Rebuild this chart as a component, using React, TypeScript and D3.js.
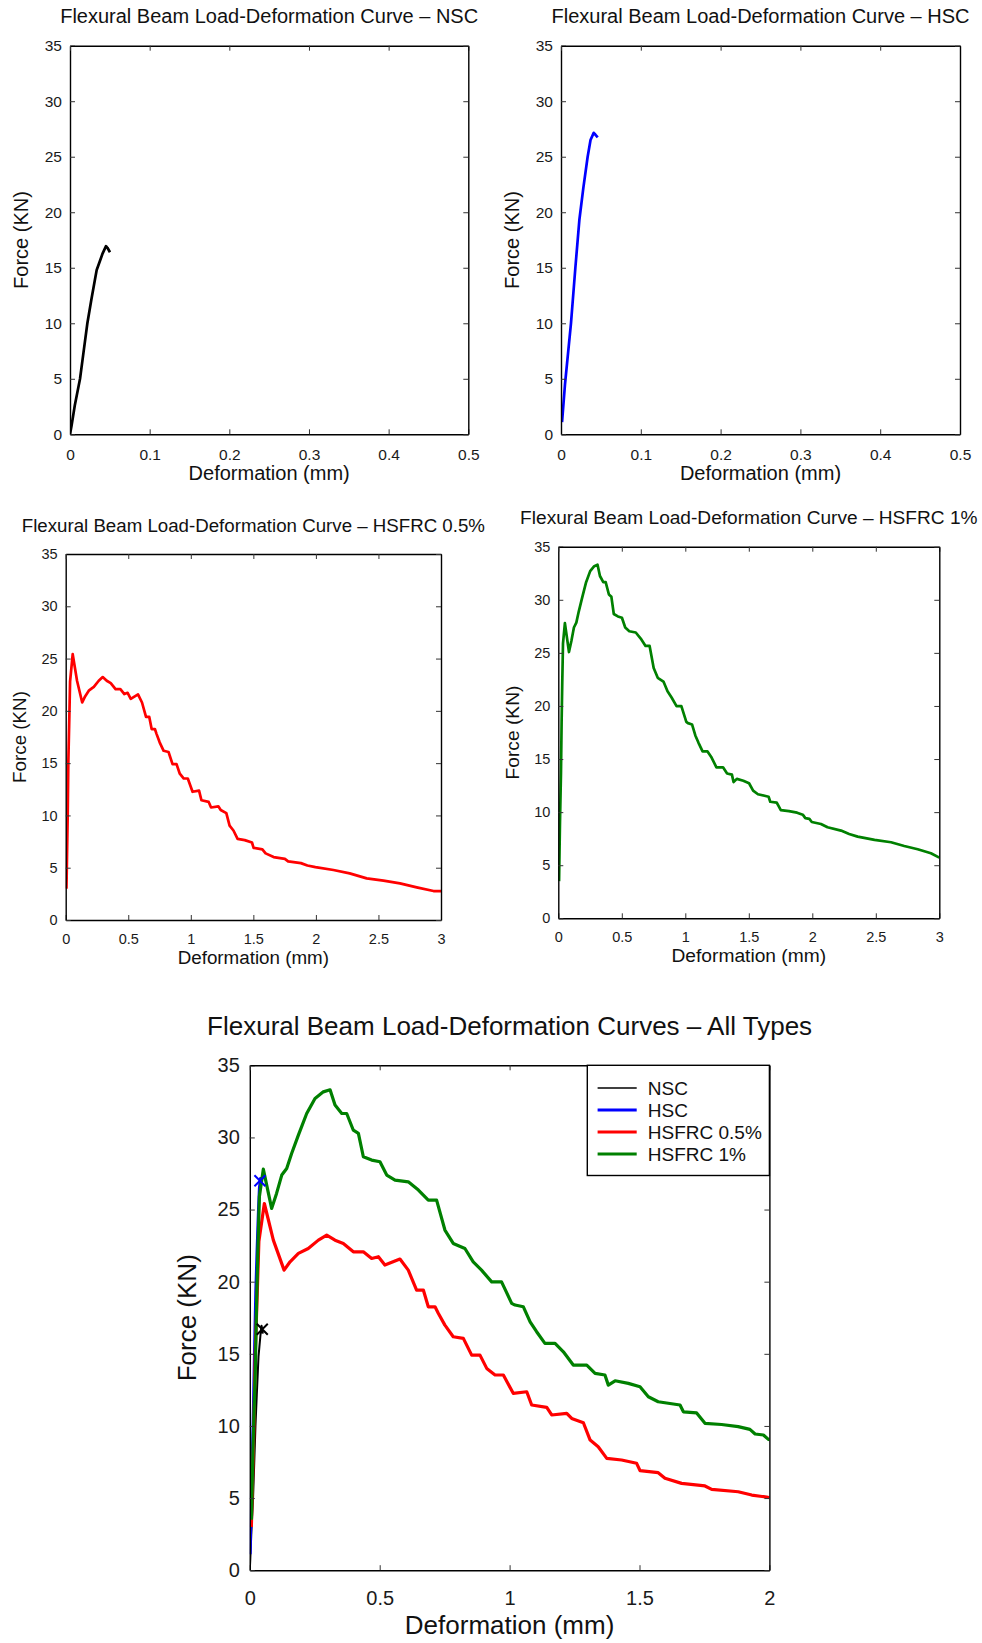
import React, { useEffect, useRef } from "react";
import * as d3 from "d3";

const W = 982;
const H = 1643;
const FONT = "'Liberation Sans', Arial, Helvetica, sans-serif";

// NSC
const nscDef = [0, 0.002, 0.006, 0.0126, 0.017, 0.0218, 0.027, 0.031, 0.0335, 0.037, 0.041, 0.0452, 0.047, 0.0502];
const nscForce = [0, 0.8, 2.6, 5.0, 7.4, 10.0, 12.2, 13.8, 14.8, 15.5, 16.3, 16.95, 16.8, 16.4];

// HSC
const hscDef = [0.0013, 0.005, 0.0125, 0.018, 0.023, 0.028, 0.0334, 0.037, 0.041, 0.043, 0.046];
const hscForce = [1.1, 4.5, 10.0, 15.0, 19.3, 22.2, 25.0, 26.5, 27.15, 27.0, 26.75];

// HSFRC 0.5%
const fr05Def = [0.006, 0.016, 0.021, 0.029, 0.035, 0.056, 0.0906, 0.132, 0.155, 0.187, 0.225, 0.264, 0.296, 0.328, 0.36, 0.3985, 0.437, 0.469, 0.495, 0.52, 0.578, 0.61, 0.642, 0.668, 0.687, 0.713, 0.726, 0.751, 0.783, 0.822, 0.854, 0.886, 0.912, 0.944, 0.976, 1.014, 1.066, 1.085, 1.143, 1.162, 1.22, 1.239, 1.284, 1.31, 1.341, 1.374, 1.431, 1.489, 1.502, 1.572, 1.598, 1.662, 1.752, 1.778, 1.88, 1.932, 1.996, 2.14, 2.27, 2.406, 2.54, 2.672, 2.806, 2.94, 3.0];
const fr05Force = [3.0, 10.0, 15.1, 19.4, 22.8, 25.42, 22.88, 20.8, 21.38, 21.96, 22.3, 22.88, 23.23, 22.88, 22.65, 22.07, 22.07, 21.61, 21.73, 21.15, 21.57, 20.8, 19.42, 19.42, 18.26, 18.26, 17.8, 16.99, 16.18, 16.07, 14.91, 14.91, 13.99, 13.53, 13.53, 12.26, 12.37, 11.45, 11.29, 10.76, 10.87, 10.52, 10.22, 9.02, 8.56, 7.75, 7.64, 7.41, 6.9, 6.76, 6.37, 6.02, 5.84, 5.6, 5.44, 5.21, 5.05, 4.78, 4.46, 3.98, 3.76, 3.5, 3.12, 2.77, 2.77];

// HSFRC 1%
const fr1Def = [0.006, 0.013, 0.021, 0.026, 0.031, 0.037, 0.052, 0.084, 0.103, 0.123, 0.142, 0.161, 0.187, 0.219, 0.251, 0.283, 0.309, 0.328, 0.354, 0.373, 0.3985, 0.418, 0.437, 0.469, 0.501, 0.527, 0.559, 0.61, 0.649, 0.687, 0.719, 0.751, 0.783, 0.828, 0.86, 0.892, 0.931, 0.969, 1.008, 1.021, 1.053, 1.079, 1.104, 1.136, 1.175, 1.207, 1.245, 1.297, 1.329, 1.367, 1.38, 1.406, 1.457, 1.502, 1.534, 1.572, 1.656, 1.669, 1.72, 1.752, 1.816, 1.88, 1.925, 1.945, 1.977, 1.996, 2.068, 2.12, 2.226, 2.29, 2.357, 2.49, 2.62, 2.724, 2.83, 2.934, 3.0];
const fr1Force = [3.5, 8.9, 13.65, 18.4, 22.1, 25.9, 27.8, 25.08, 26.12, 27.39, 27.85, 28.89, 30.16, 31.66, 32.7, 33.16, 33.3, 32.24, 31.66, 31.66, 30.5, 30.28, 28.66, 28.43, 28.31, 27.39, 27.04, 26.92, 26.35, 25.65, 25.65, 23.58, 22.65, 22.3, 21.38, 20.8, 19.99, 19.99, 18.5, 18.38, 18.26, 17.22, 16.53, 15.72, 15.72, 15.14, 14.22, 14.22, 13.64, 13.53, 12.83, 13.13, 12.95, 12.72, 12.02, 11.68, 11.45, 10.98, 10.9, 10.18, 10.1, 9.95, 9.76, 9.44, 9.37, 9.07, 8.88, 8.57, 8.26, 7.94, 7.69, 7.38, 7.16, 6.81, 6.5, 6.12, 5.71];

// peak markers on the combined plot (NSC, HSC)
const markerDef = [0.048, 0.039];
const markerForce = [16.7, 27.0];

const smallDefTicks = [0, 0.1, 0.2, 0.3, 0.4, 0.5];
const fibreDefTicks = [0, 0.5, 1, 1.5, 2, 2.5, 3];
const allDefTicks = [0, 0.5, 1, 1.5, 2];
const forceTicks = [0, 5, 10, 15, 20, 25, 30, 35];

const seriesNames = ["NSC", "HSC", "HSFRC 0.5%", "HSFRC 1%"];
const seriesColors = ["#000000", "#0000ff", "#ff0000", "#008000"];

const toPoints = (xs, ys) => xs.map((x, i) => [x, ys[i]]);

function drawPanel(svg, id, cfg) {
  const [l, t, r, b] = cfg.box;
  const x = d3.scaleLinear().domain([0, cfg.xMax]).range([l, r]);
  const y = d3.scaleLinear().domain([0, 35]).range([b, t]);
  const g = svg.append("g");

  g.append("clipPath").attr("id", id)
    .append("rect").attr("x", l).attr("y", t).attr("width", r - l).attr("height", b - t);

  const line = d3.line().x(d => x(d[0])).y(d => y(d[1]));
  cfg.series.forEach(s => {
    g.append("path")
      .datum(s.points)
      .attr("d", line)
      .attr("clip-path", `url(#${id})`)
      .style("fill", "none")
      .style("stroke", s.color)
      .style("stroke-width", s.width)
      .style("stroke-linejoin", "round");
  });

  (cfg.markers || []).forEach(m => {
    const cx = x(m.x), cy = y(m.y), s = 5.5;
    g.append("path")
      .attr("d", `M${cx - s},${cy - s}L${cx + s},${cy + s}M${cx - s},${cy + s}L${cx + s},${cy - s}`)
      .style("stroke", m.color)
      .style("stroke-width", 2)
      .style("fill", "none");
  });

  const styleAxis = sel => {
    sel.attr("font-family", FONT).attr("font-size", cfg.tickSize);
    sel.select(".domain").attr("stroke", "#000").attr("stroke-width", 1.4);
    sel.selectAll(".tick line").attr("stroke", "#333").attr("stroke-width", 1);
    sel.selectAll(".tick text").attr("fill", "#1a1a1a");
  };

  const fmt = d => String(d);
  g.append("g").attr("transform", `translate(0,${b})`)
    .call(d3.axisBottom(x).tickValues(cfg.xTicks).tickFormat(fmt).tickSize(-5).tickSizeOuter(0))
    .call(styleAxis)
    .call(a => a.selectAll(".tick text").attr("y", cfg.xTickBase).attr("dy", 0));
  g.append("g").attr("transform", `translate(${l},0)`)
    .call(d3.axisLeft(y).tickValues(forceTicks).tickFormat(fmt).tickSize(-5).tickSizeOuter(0).tickPadding(cfg.yTickPad))
    .call(styleAxis);
  g.append("g").attr("transform", `translate(0,${t})`)
    .call(d3.axisTop(x).tickValues(cfg.xTicks).tickFormat(() => "").tickSize(-5).tickSizeOuter(0))
    .call(styleAxis);
  g.append("g").attr("transform", `translate(${r},0)`)
    .call(d3.axisRight(y).tickValues(forceTicks).tickFormat(() => "").tickSize(-5).tickSizeOuter(0))
    .call(styleAxis);

  g.append("text")
    .attr("x", (l + r) / 2).attr("y", cfg.titleY)
    .attr("text-anchor", "middle")
    .attr("font-family", FONT).attr("font-size", cfg.titleSize)
    .attr("fill", "#111")
    .text(cfg.title);

  g.append("text")
    .attr("x", (l + r) / 2).attr("y", b + cfg.xLabelBase)
    .attr("text-anchor", "middle")
    .attr("font-family", FONT).attr("font-size", cfg.labelSize)
    .attr("fill", "#111")
    .text("Deformation (mm)");

  g.append("text")
    .attr("transform", `translate(${l - cfg.yLabelOff},${(t + b) / 2}) rotate(-90)`)
    .attr("text-anchor", "middle")
    .attr("font-family", FONT).attr("font-size", cfg.labelSize)
    .attr("fill", "#111")
    .text("Force (KN)");

  return { g, x, y };
}

const App = () => {
  const ref = useRef(null);

  useEffect(() => {
    const svg = d3.select(ref.current);
    svg.selectAll("*").remove();

    const nsc = toPoints(nscDef, nscForce);
    const hsc = toPoints(hscDef, hscForce);
    const fr05 = toPoints(fr05Def, fr05Force);
    const fr1 = toPoints(fr1Def, fr1Force);

    const small = { tickSize: 15.5, labelSize: 20, titleSize: 20, yTickPad: 8, xTickBase: 25.5, xLabelBase: 46 };
    const mid = { tickSize: 14.5, yTickPad: 8, xTickBase: 23.5, xLabelBase: 44 };

    drawPanel(svg, "clip-nsc", {
      ...small, box: [70, 45.7, 468.3, 434.3], xMax: 0.5, xTicks: smallDefTicks,
      title: "Flexural Beam Load-Deformation Curve \u2013 NSC", titleY: 22.5, yLabelOff: 42,
      series: [{ points: nsc, color: seriesColors[0], width: 2.7 }]
    });
    drawPanel(svg, "clip-hsc", {
      ...small, box: [561, 45.7, 960, 434.3], xMax: 0.5, xTicks: smallDefTicks,
      title: "Flexural Beam Load-Deformation Curve \u2013 HSC", titleY: 22.5, yLabelOff: 42,
      series: [{ points: hsc, color: seriesColors[1], width: 2.7 }]
    });
    drawPanel(svg, "clip-fr05", {
      ...mid, labelSize: 18.8, titleSize: 18.7, box: [65.7, 554, 441, 920], xMax: 3, xTicks: fibreDefTicks,
      title: "Flexural Beam Load-Deformation Curve \u2013 HSFRC 0.5%", titleY: 531.5, yLabelOff: 39.5,
      series: [{ points: fr05, color: seriesColors[2], width: 2.7 }]
    });
    drawPanel(svg, "clip-fr1", {
      ...mid, labelSize: 19.2, titleSize: 19.1, box: [558.3, 546.7, 939.3, 918.3], xMax: 3, xTicks: fibreDefTicks,
      title: "Flexural Beam Load-Deformation Curve \u2013 HSFRC 1%", titleY: 524.3, yLabelOff: 39.5,
      series: [{ points: fr1, color: seriesColors[3], width: 2.7 }]
    });

    drawPanel(svg, "clip-all", {
      tickSize: 20, labelSize: 26, titleSize: 26, yTickPad: 10, xTickBase: 34.5, xLabelBase: 64,
      box: [249.8, 1065.3, 769.4, 1570.2], xMax: 2, xTicks: allDefTicks,
      title: "Flexural Beam Load-Deformation Curves \u2013 All Types", titleY: 1035, yLabelOff: 54,
      series: [
        { points: nsc, color: seriesColors[0], width: 2 },
        { points: hsc, color: seriesColors[1], width: 3 },
        { points: fr05, color: seriesColors[2], width: 3.2 },
        { points: fr1, color: seriesColors[3], width: 3.2 }
      ],
      markers: [
        { x: markerDef[1], y: markerForce[1], color: seriesColors[1] },
        { x: markerDef[0], y: markerForce[0], color: seriesColors[0] }
      ]
    });

    // legend
    const lg = svg.append("g");
    const lx0 = 587.3, ly0 = 1065.3, lx1 = 769.4, ly1 = 1175.5;
    lg.append("rect")
      .attr("x", lx0).attr("y", ly0).attr("width", lx1 - lx0).attr("height", ly1 - ly0)
      .attr("fill", "#fff").attr("stroke", "#000").attr("stroke-width", 1.4);
    const rowY = d3.scalePoint().domain(seriesNames).range([1088, 1154]);
    seriesNames.forEach((name, i) => {
      const yy = rowY(name);
      lg.append("line")
        .attr("x1", 597.6).attr("x2", 636.7).attr("y1", yy).attr("y2", yy)
        .attr("stroke", seriesColors[i]).attr("stroke-width", i === 0 ? 1.3 : 3);
      lg.append("text")
        .attr("x", 647.8).attr("y", yy).attr("dy", "0.36em")
        .attr("font-family", FONT).attr("font-size", 19).attr("fill", "#111")
        .text(name);
    });
  }, []);

  return (
    <svg ref={ref} width={W} height={H} style={{ position: "absolute", left: 0, top: 0, background: "#fff" }} />
  );
};

export default App;
